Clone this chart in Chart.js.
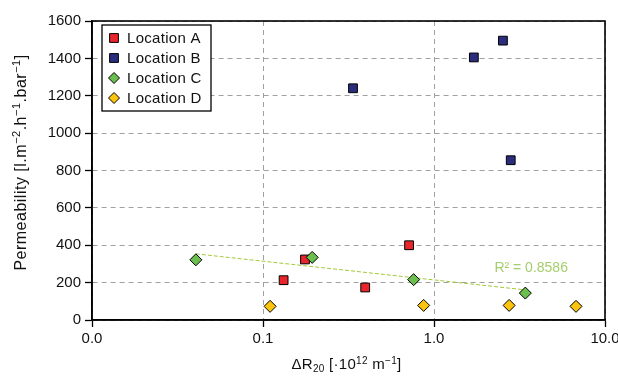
<!DOCTYPE html>
<html>
<head>
<meta charset="utf-8">
<script src="https://cdn.jsdelivr.net/npm/chart.js@4.4.1/dist/chart.umd.min.js"></script>
<style>
  html, body { margin: 0; padding: 0; background: #fff; }
  #wrap { width: 618px; height: 378px; }
</style>
</head>
<body>
<div id="wrap"><canvas id="chart" width="618" height="378"></canvas></div>
<script>
const seriesNames = ["Location A", "Location B", "Location C", "Location D"];

const locationAX = [0.132, 0.176, 0.396, 0.715];
const locationAY = [213, 324, 174, 400];
const locationBX = [0.336, 1.71, 2.53, 2.81];
const locationBY = [1240, 1405, 1495, 855];
const locationCX = [0.0405, 0.194, 0.76, 3.42];
const locationCY = [322, 335, 216, 144];
const locationDX = [0.110, 0.87, 2.75, 6.77];
const locationDY = [73, 78, 78, 73];

// log trendline of Location C, endpoints
const trendX = [0.0405, 3.42];
const trendY = [354, 161];
const trendLabel = "R\u00B2 = 0.8586";
const trendLabelAt = [3.7, 278];

const xTickValues = [0.01, 0.1, 1, 10];
const yMin = 0, yMax = 1600, yStep = 200;

// axis titles as [text, "sup" | "sub" | ""] pieces
const xTitleParts = [["\u0394R", ""], ["20", "sub"], [" [\u00B710", ""], ["12", "sup"], [" m", ""], ["\u22121", "sup"], ["]", ""]];
const yTitleParts = [["Permeability [l.m", ""], ["\u22122", "sup"], [".h", ""], ["\u22121", "sup"], [".bar", ""], ["\u22121", "sup"], ["]", ""]];

const FONT = "'Liberation Sans', Arial, Helvetica, sans-serif";
const colors = ["#e8252b", "#2b2d7c", "#6bbf4e", "#fcc30f"];
const shapes = ["rect", "rect", "rectRot", "rectRot"];

function toPoints(xs, ys) {
  return xs.map((x, i) => ({ x: x, y: ys[i] }));
}

const seriesData = [
  toPoints(locationAX, locationAY),
  toPoints(locationBX, locationBY),
  toPoints(locationCX, locationCY),
  toPoints(locationDX, locationDY),
];

const drawOrder = [4, 3, 2, 1];

const datasets = seriesNames.map((name, i) => ({
  type: "scatter",
  label: name,
  data: seriesData[i],
  pointStyle: shapes[i],
  pointRadius: shapes[i] === "rect" ? 6.2 : 6,
  pointBackgroundColor: colors[i],
  pointBorderColor: "#000",
  pointBorderWidth: 1,
  order: drawOrder[i],
}));

datasets.push({
  type: "line",
  label: "trend",
  data: toPoints(trendX, trendY),
  borderColor: "#a3c93a",
  borderWidth: 1,
  borderDash: [4, 2],
  pointRadius: 0,
  fill: false,
  order: 10,
});

function drawMarker(ctx, shape, x, y, color) {
  ctx.save();
  ctx.fillStyle = color;
  ctx.strokeStyle = "#000";
  ctx.lineWidth = 1;
  ctx.beginPath();
  if (shape === "rect") {
    ctx.rect(x - 4.4, y - 4.4, 8.8, 8.8);
  } else {
    ctx.moveTo(x, y - 5.5);
    ctx.lineTo(x + 5.5, y);
    ctx.lineTo(x, y + 5.5);
    ctx.lineTo(x - 5.5, y);
    ctx.closePath();
  }
  ctx.fill();
  ctx.stroke();
  ctx.restore();
}

// draws text with super/subscripts, centred on (0, 0) of the current transform
function drawRich(ctx, parts, size, spacing) {
  const small = Math.round(size * 0.68);
  ctx.letterSpacing = spacing + "px";
  const widths = parts.map(([t, kind]) => {
    ctx.font = (kind ? small : size) + "px " + FONT;
    return ctx.measureText(t).width;
  });
  const total = widths.reduce((a, b) => a + b, 0);
  let x = -total / 2;
  parts.forEach(([t, kind], i) => {
    ctx.font = (kind ? small : size) + "px " + FONT;
    let dy = 0;
    if (kind === "sup") dy = -size * 0.36;
    if (kind === "sub") dy = size * 0.22;
    ctx.fillText(t, x, dy);
    x += widths[i];
  });
}

const titlesPlugin = {
  id: "titles",
  afterDraw(chart) {
    const { ctx, chartArea: a } = chart;
    ctx.save();
    ctx.fillStyle = "#111";
    ctx.textBaseline = "alphabetic";
    ctx.textAlign = "left";
    ctx.save();
    ctx.translate((a.left + a.right) / 2 - 2, 369);
    drawRich(ctx, xTitleParts, 15, 0.3);
    ctx.restore();
    ctx.save();
    ctx.translate(26, (a.top + a.bottom) / 2 - 8);
    ctx.rotate(-Math.PI / 2);
    drawRich(ctx, yTitleParts, 16, 0.5);
    ctx.restore();
    ctx.restore();
  },
};

const framePlugin = {
  id: "frame",
  afterDatasetsDraw(chart) {
    const { ctx, chartArea: a } = chart;
    ctx.save();
    ctx.strokeStyle = "#000";
    ctx.lineWidth = 1.6;
    ctx.strokeRect(a.left, a.top, a.right - a.left, a.bottom - a.top);
    ctx.restore();
  },
};

const boxLegendPlugin = {
  id: "boxLegend",
  afterDraw(chart) {
    const { ctx, chartArea: a } = chart;
    const left = a.left + 10, top = a.top + 4;
    const w = 109, rowH = 20;
    const h = rowH * seriesNames.length + 6;
    ctx.save();
    ctx.fillStyle = "#fff";
    ctx.fillRect(left, top, w, h);
    ctx.strokeStyle = "#000";
    ctx.lineWidth = 1.3;
    ctx.strokeRect(left, top, w, h);
    ctx.font = "15px " + FONT;
    ctx.letterSpacing = "0.3px";
    ctx.textBaseline = "middle";
    seriesNames.forEach((name, i) => {
      const cy = top + 13 + i * rowH;
      drawMarker(ctx, shapes[i], left + 12, cy, colors[i]);
      ctx.fillStyle = "#111";
      ctx.fillText(name, left + 25, cy + 1);
    });
    ctx.restore();
  },
};

const trendLabelPlugin = {
  id: "trendLabel",
  afterDatasetsDraw(chart) {
    const { ctx, scales } = chart;
    ctx.save();
    ctx.font = "14px " + FONT;
    ctx.fillStyle = "#a5cf6b";
    ctx.textAlign = "center";
    ctx.textBaseline = "middle";
    ctx.fillText(trendLabel, scales.x.getPixelForValue(trendLabelAt[0]), scales.y.getPixelForValue(trendLabelAt[1]));
    ctx.restore();
  },
};

const gridStyle = {
  color: "#a0a0a0",
  lineWidth: 1,
  tickColor: "#000",
  tickLength: 7,
  tickWidth: 1.3,
};

new Chart(document.getElementById("chart"), {
  type: "scatter",
  data: { datasets: datasets },
  options: {
    responsive: false,
    animation: false,
    events: [],
    layout: { padding: { top: 21, right: 13, left: 0, bottom: 0 } },
    plugins: {
      legend: { display: false },
      tooltip: { enabled: false },
    },
    scales: {
      x: {
        type: "logarithmic",
        position: "bottom",
        min: xTickValues[0],
        max: xTickValues[xTickValues.length - 1],
        afterBuildTicks: (scale) => {
          scale.ticks = xTickValues.map((v) => ({ value: v }));
        },
        afterFit: (scale) => {
          scale.height = 58;
          scale.paddingLeft = 0;
          scale.paddingRight = 0;
        },
        ticks: {
          callback: (v) => Number(v).toFixed(1),
          autoSkip: false,
          maxRotation: 0,
          padding: 3,
          color: "#111",
          font: { family: FONT, size: 15 },
        },
        grid: gridStyle,
        border: { display: true, color: "#000", width: 1.6, dash: [5, 4] },
      },
      y: {
        min: yMin,
        max: yMax,
        afterFit: (scale) => {
          scale.width = 92;
        },
        ticks: {
          stepSize: yStep,
          callback: (v) => String(v),
          padding: 4,
          color: "#111",
          font: { family: FONT, size: 15 },
        },
        grid: gridStyle,
        border: { display: true, color: "#000", width: 1.6, dash: [5, 4] },
      },
    },
  },
  plugins: [framePlugin, trendLabelPlugin, boxLegendPlugin, titlesPlugin],
});
</script>
</body>
</html>
